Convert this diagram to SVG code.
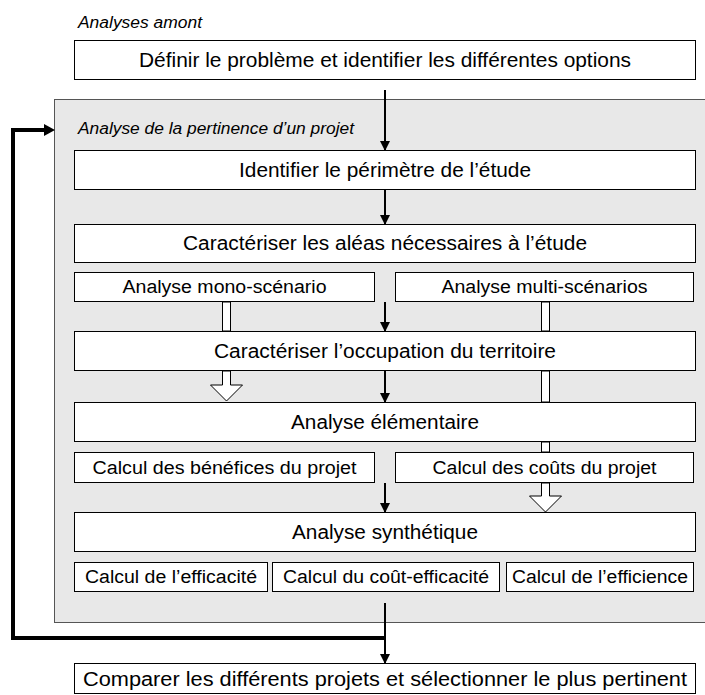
<svg xmlns="http://www.w3.org/2000/svg" width="705" height="695" viewBox="0 0 705 695">
<defs>
<style>
text{font-family:"Liberation Sans",Arial,sans-serif;fill:#000;}
.big{font-size:20px;text-anchor:middle;}
.sm{font-size:18px;text-anchor:middle;}
.it{font-size:16px;font-style:italic;}
.box{fill:#fff;stroke:#000;stroke-width:1;}
.ln{stroke:#000;stroke-width:2;fill:none;}
.thick{stroke:#000;stroke-width:4;fill:none;}
.hollow{fill:#fff;stroke:#000;stroke-width:1;}
</style>
<marker id="ah" markerWidth="10" markerHeight="10" refX="9" refY="5" orient="auto" markerUnits="userSpaceOnUse" viewBox="0 0 10 10">
<path d="M0,0 L10,5 L0,10 z" fill="#000"/>
</marker>
</defs>
<rect x="0" y="0" width="705" height="695" fill="#fff"/>
<text class="it" x="78" y="28" textLength="124" lengthAdjust="spacingAndGlyphs">Analyses amont</text>
<g id="n-definir"><rect class="box" x="74.5" y="40.5" width="621" height="39"/><text class="big" x="385" y="67" textLength="492" lengthAdjust="spacingAndGlyphs">Définir le problème et identifier les différentes options</text></g>
<g id="n-pertinence"><rect x="54.5" y="99.5" width="651" height="523" fill="#e8e8e8" stroke="#555" stroke-width="1"/><text class="it" x="78" y="134" textLength="276" lengthAdjust="spacingAndGlyphs">Analyse de la pertinence d’un projet</text></g>
<g id="n-perimetre"><rect class="box" x="74.5" y="150.5" width="621" height="39"/><text class="big" x="385" y="177" textLength="292" lengthAdjust="spacingAndGlyphs">Identifier le périmètre de l’étude</text></g>
<g id="n-aleas"><rect class="box" x="74.5" y="224.5" width="621" height="38"/><text class="big" x="385" y="250" textLength="404" lengthAdjust="spacingAndGlyphs">Caractériser les aléas nécessaires à l’étude</text></g>
<g id="n-mono"><rect class="box" x="74.5" y="272.5" width="300" height="29"/><text class="sm" x="224.5" y="293" textLength="204" lengthAdjust="spacingAndGlyphs">Analyse mono-scénario</text></g>
<g id="n-multi"><rect class="box" x="395.5" y="272.5" width="298" height="29"/><text class="sm" x="544.5" y="293" textLength="206" lengthAdjust="spacingAndGlyphs">Analyse multi-scénarios</text></g>
<g id="connectors">
<line class="ln" x1="385" y1="90" x2="385" y2="150" marker-end="url(#ah)"/>
<line class="ln" x1="385" y1="190" x2="385" y2="224" marker-end="url(#ah)"/>
<line class="ln" x1="385" y1="302" x2="385" y2="331" marker-end="url(#ah)"/>
<line class="ln" x1="385" y1="371" x2="385" y2="402" marker-end="url(#ah)"/>
<line class="ln" x1="385" y1="483" x2="385" y2="512" marker-end="url(#ah)"/>
<rect class="hollow" x="222.5" y="302" width="8" height="29"/>
<polygon class="hollow" points="222.5,371 230.5,371 230.5,385 242.5,385 226.5,401 210.5,385 222.5,385"/>
<rect class="hollow" x="541.5" y="302" width="8" height="29"/>
<rect class="hollow" x="541.5" y="371" width="8" height="31"/>
<rect class="hollow" x="541.5" y="442" width="8" height="10"/>
<polygon class="hollow" points="541.5,483 549.5,483 549.5,496 561.5,496 545.5,512 529.5,496 541.5,496"/>
<polyline class="thick" points="385,638 13,638 13,130 46,130"/>
<path d="M44,124 L55,130 L44,136 z" fill="#000"/>
<line class="ln" x1="385" y1="603" x2="385" y2="663" marker-end="url(#ah)"/>
</g>
<g id="n-occupation"><rect class="box" x="74.5" y="331.5" width="621" height="39"/><text class="big" x="385" y="358" textLength="342" lengthAdjust="spacingAndGlyphs">Caractériser l’occupation du territoire</text></g>
<g id="n-elementaire"><rect class="box" x="74.5" y="402.5" width="621" height="39"/><text class="big" x="385" y="429" textLength="188" lengthAdjust="spacingAndGlyphs">Analyse élémentaire</text></g>
<g id="n-benefices"><rect class="box" x="74.5" y="452.5" width="300" height="30"/><text class="sm" x="224.5" y="474" textLength="264" lengthAdjust="spacingAndGlyphs">Calcul des bénéfices du projet</text></g>
<g id="n-couts"><rect class="box" x="395.5" y="452.5" width="298" height="30"/><text class="sm" x="544.5" y="474" textLength="224" lengthAdjust="spacingAndGlyphs">Calcul des coûts du projet</text></g>
<g id="n-synthetique"><rect class="box" x="74.5" y="512.5" width="621" height="39"/><text class="big" x="385" y="539" textLength="186" lengthAdjust="spacingAndGlyphs">Analyse synthétique</text></g>
<g id="n-efficacite"><rect class="box" x="74.5" y="562.5" width="193" height="29"/><text class="sm" x="171" y="583" textLength="172" lengthAdjust="spacingAndGlyphs">Calcul de l’efficacité</text></g>
<g id="n-cout-efficacite"><rect class="box" x="272.5" y="562.5" width="227" height="29"/><text class="sm" x="386" y="583" textLength="206" lengthAdjust="spacingAndGlyphs">Calcul du coût-efficacité</text></g>
<g id="n-efficience"><rect class="box" x="506.5" y="562.5" width="187" height="29"/><text class="sm" x="600" y="583" textLength="176" lengthAdjust="spacingAndGlyphs">Calcul de l’efficience</text></g>
<g id="n-comparer"><rect class="box" x="74.5" y="663.5" width="621" height="30"/><text class="big" x="385" y="686" textLength="604" lengthAdjust="spacingAndGlyphs">Comparer les différents projets et sélectionner le plus pertinent</text></g>
</svg>
